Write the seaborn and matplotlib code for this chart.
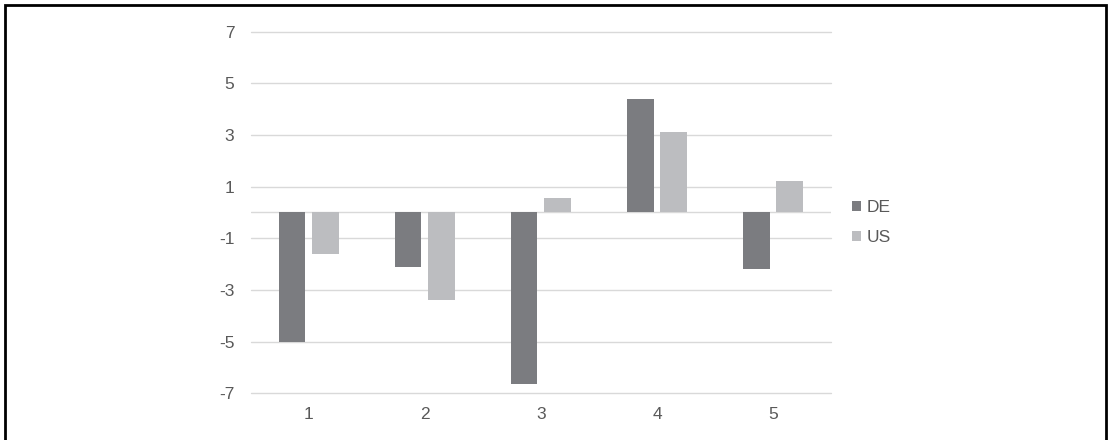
import pandas as pd
import seaborn as sns
import matplotlib.pyplot as plt
from matplotlib.patches import Rectangle

categories = ["1", "2", "3", "4", "5"]
de_values = [-5.0, -2.1, -6.65, 4.38, -2.19]
us_values = [-1.6, -3.38, 0.54, 3.13, 1.23]
series = ["DE", "US"]
yticks = [-7, -5, -3, -1, 1, 3, 5, 7]

df = pd.DataFrame({
    "cat": categories * 2,
    "value": de_values + us_values,
    "series": ["DE"] * len(categories) + ["US"] * len(categories),
})

sns.set_style("white")
plt.rcParams['font.family'] = ['Liberation Sans', 'DejaVu Sans']
text_col = "#595959"

fig = plt.figure(figsize=(11.09, 4.4), dpi=100)
ax = fig.add_axes([0.2263, 0.1061, 0.523, 0.8223])

sns.barplot(data=df, x="cat", y="value", hue="series", order=categories,
            hue_order=series, palette=["#7b7c80", "#bcbdc0"], saturation=1,
            width=0.57, gap=0.21, ax=ax, edgecolor="none", linewidth=0, zorder=3)

ax.set_ylim(-7, 7)
ax.set_yticks(yticks)
ax.set_yticklabels([str(t) for t in yticks])
ax.yaxis.grid(True, color="#d9d9d9", linewidth=1.0, zorder=0)
for gl in ax.get_ygridlines():
    gl.set_clip_on(False)
ax.axhline(0, color="#d9d9d9", linewidth=1.0, zorder=1)
ax.set_xlabel("")
ax.set_ylabel("")
for s in ax.spines.values():
    s.set_visible(False)
ax.tick_params(axis="both", length=0, labelsize=12.5, colors=text_col)
ax.tick_params(axis="y", pad=12)
ax.tick_params(axis="x", pad=10)

ax.get_legend().remove()
handles, labels = ax.get_legend_handles_labels()
leg = fig.legend(handles, labels, loc="center left", bbox_to_anchor=(0.768, 0.4945),
                 frameon=False, fontsize=12.5, handlelength=0.52, handleheight=0.52,
                 handletextpad=0.35, labelspacing=0.85, borderpad=0, borderaxespad=0)
for t in leg.get_texts():
    t.set_color(text_col)

# outer frame
fig.patches.append(Rectangle((4.5 / 1109, -0.05), 1101.5 / 1109, (440 - 5.5) / 440 + 0.05,
                             transform=fig.transFigure, fill=False,
                             edgecolor="black", linewidth=2.0))

fig.savefig("out.png", dpi=100)
